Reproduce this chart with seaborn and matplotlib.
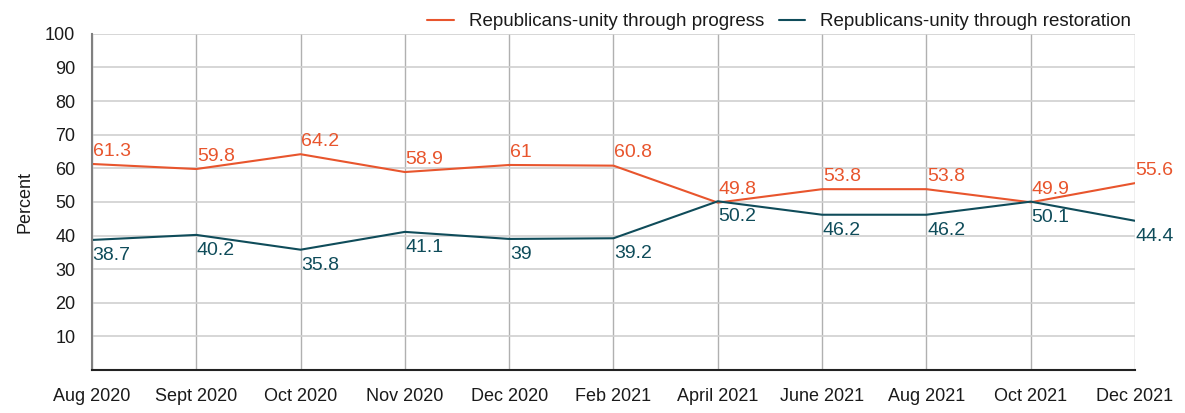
import pandas as pd
import matplotlib.pyplot as plt
import seaborn as sns

months = ['Aug 2020', 'Sept 2020', 'Oct 2020', 'Nov 2020', 'Dec 2020', 'Feb 2021',
          'April 2021', 'June 2021', 'Aug 2021', 'Oct 2021', 'Dec 2021']
progress = [61.3, 59.8, 64.2, 58.9, 61, 60.8, 49.8, 53.8, 53.8, 49.9, 55.6]
restoration = [38.7, 40.2, 35.8, 41.1, 39, 39.2, 50.2, 46.2, 46.2, 50.1, 44.4]
progress_name = 'Republicans-unity through progress'
restoration_name = 'Republicans-unity through restoration'

ORANGE = '#E8552D'
TEAL = '#0F4C5A'

df = pd.DataFrame({
    'month': months * 2,
    'value': progress + restoration,
    'series': [progress_name] * len(months) + [restoration_name] * len(months),
})

sns.set_theme(style='white')
plt.rcParams['font.family'] = ['Liberation Sans', 'DejaVu Sans']

fig = plt.figure(figsize=(11.85, 4.13), dpi=100)
ax = fig.add_axes([0.0776, 0.104, 0.8802, 0.814])

sns.lineplot(data=df, x='month', y='value', hue='series',
             palette={progress_name: ORANGE, restoration_name: TEAL},
             linewidth=1.5, ax=ax, sort=False)

# value labels
for i, v in enumerate(progress):
    ax.annotate(f'{v:g}', (i, v), xytext=(0.5, 3), textcoords='offset points',
                ha='left', va='bottom', color=ORANGE, fontsize=14)
for i, v in enumerate(restoration):
    ax.annotate(f'{v:g}', (i, v), xytext=(0.5, -5), textcoords='offset points',
                ha='left', va='top', color=TEAL, fontsize=14)

ax.set_xlim(0, len(months) - 1)
ax.set_ylim(0, 100)
ax.set_yticks(range(10, 101, 10))
ax.set_xlabel('')
ax.set_ylabel('Percent', fontsize=13, color='#1a1a1a', labelpad=8)
ax.tick_params(axis='both', labelsize=13, colors='#1a1a1a', length=0)
ax.tick_params(axis='x', pad=13)
ax.tick_params(axis='y', pad=12)

ax.yaxis.grid(True, color='#d0d0d0', linewidth=1.2)
ax.xaxis.grid(True, color='#b0b0b0', linewidth=1)
ax.set_axisbelow(True)

for s in ['top', 'right']:
    ax.spines[s].set_visible(False)
ax.spines['left'].set_color('#808080')
ax.spines['left'].set_linewidth(1.5)
ax.spines['bottom'].set_color('#222222')
ax.spines['bottom'].set_linewidth(1.5)

leg = ax.legend(loc='lower right', bbox_to_anchor=(1.0, 1.0), ncol=2, frameon=False,
                fontsize=13.5, handlelength=1.4, handletextpad=0.8, columnspacing=0.8,
                borderaxespad=0.0, borderpad=0.2)
for t in leg.get_texts():
    t.set_color('#1a1a1a')

fig.savefig('out.png', dpi=100)
